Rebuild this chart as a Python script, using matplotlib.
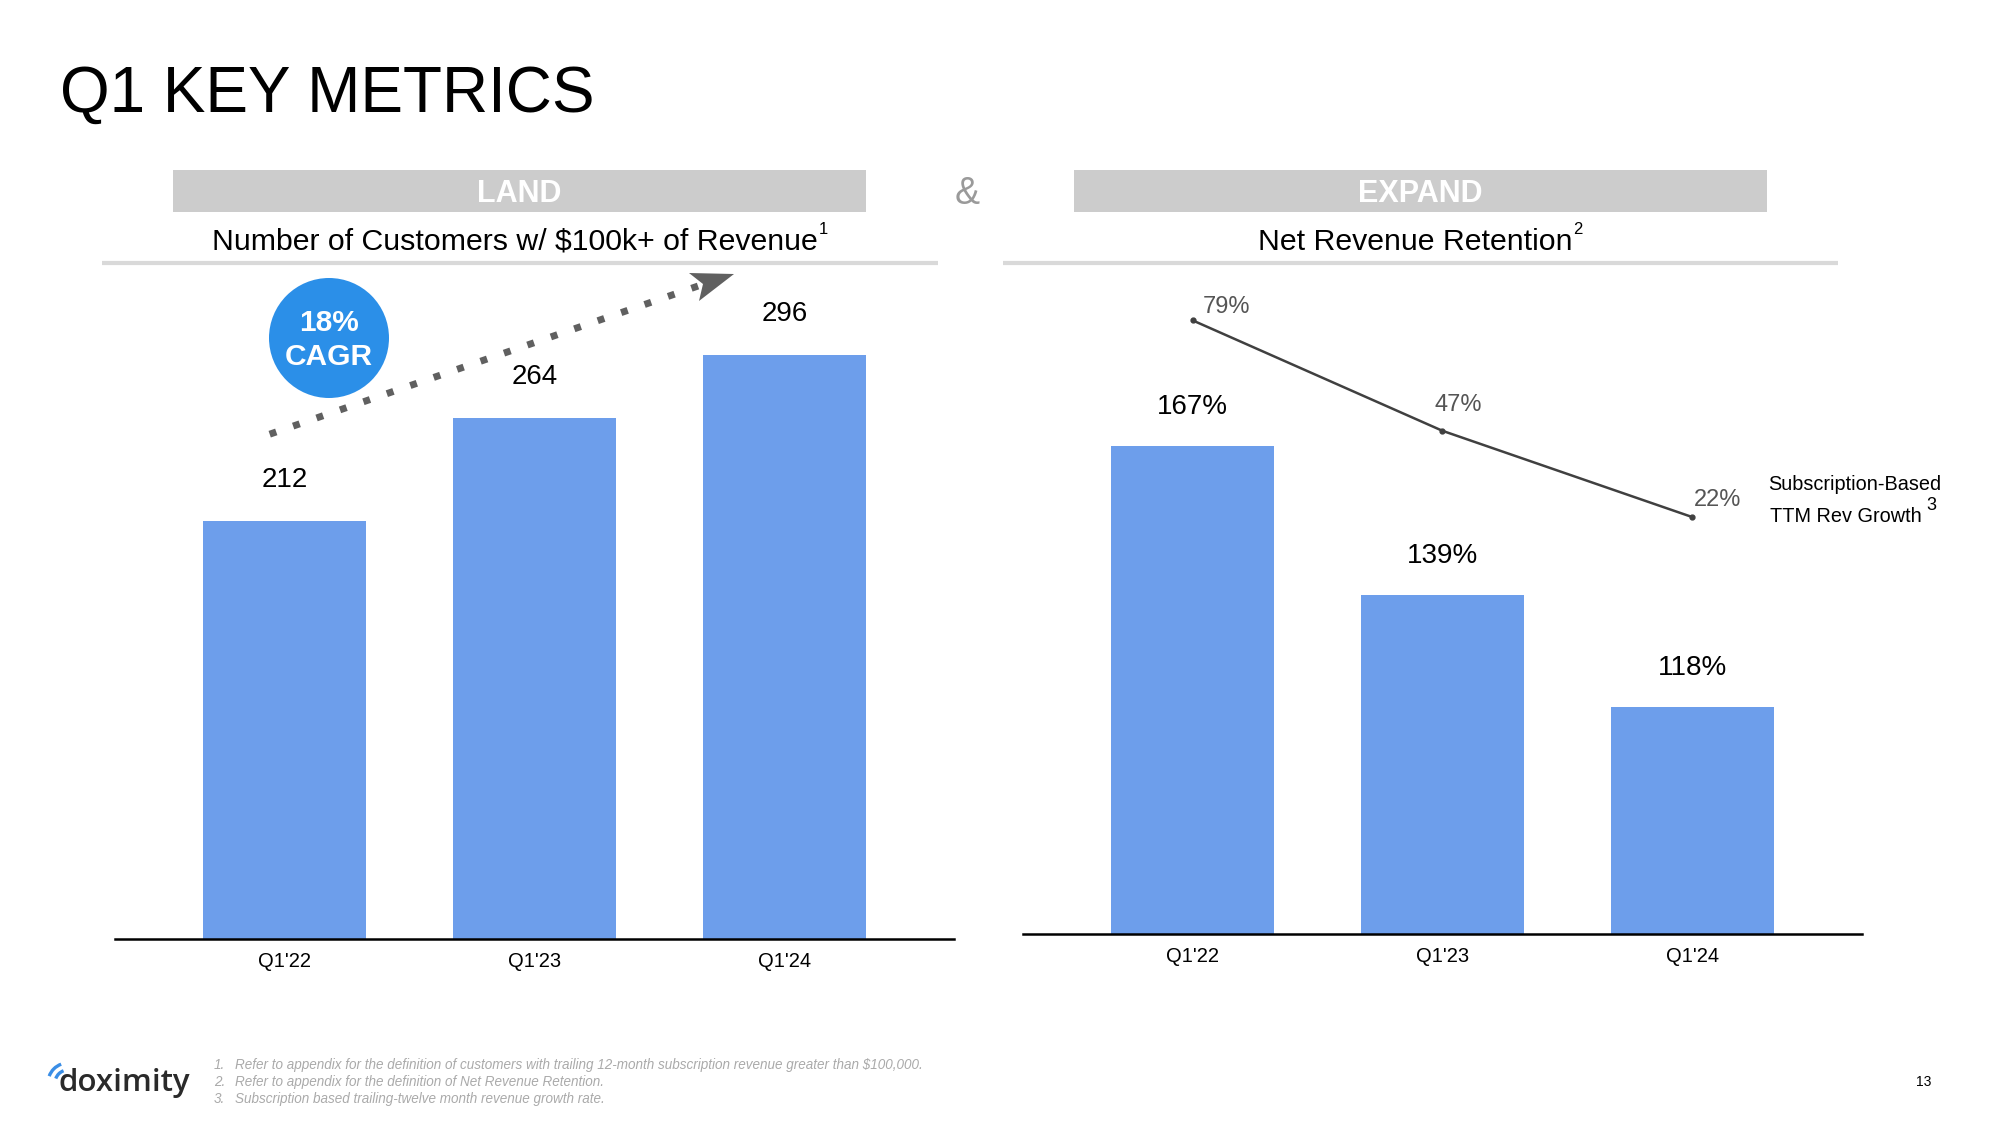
import matplotlib
matplotlib.use("Agg")
import matplotlib.pyplot as plt
from matplotlib.patches import Rectangle, Circle, Polygon, Arc
from matplotlib.lines import Line2D

plt.rcParams['font.family'] = ['Liberation Sans', 'DejaVu Sans']

# ---------------- data ----------------
categories = ["Q1'22", "Q1'23", "Q1'24"]
customers_100k = [212, 264, 296]
net_rev_retention = [167, 139, 118]
ttm_rev_growth = [79, 47, 22]
cagr_label = "18%\nCAGR"
footnotes = [
    "Refer to appendix for the definition of customers with trailing 12-month subscription revenue greater than $100,000.",
    "Refer to appendix for the definition of Net Revenue Retention.",
    "Subscription based trailing-twelve month revenue growth rate.",
]

W, H = 2000, 1125
fig = plt.figure(figsize=(20, 11.25), dpi=100)
fig.patch.set_facecolor('white')

# overlay in pixel coords for decorations
ov = fig.add_axes([0, 0, 1, 1], zorder=0)
ov.set_xlim(0, W)
ov.set_ylim(H, 0)
ov.axis('off')

BAR = '#6d9eeb'
LINEC = '#404040'

def fx(x):
    return x / W

def fy(y):
    return 1 - y / H

# title
fig.text(fx(60), fy(112), "Q1 KEY METRICS", fontsize=46, color='black', ha='left', va='baseline')

# header boxes
for (x0, x1, label) in [(173, 866, "LAND"), (1074, 1767, "EXPAND")]:
    ov.add_patch(Rectangle((x0, 170), x1 - x0, 42, facecolor='#cccccc', edgecolor='none'))
    ov.text((x0 + x1) / 2, 194, label, fontsize=22, fontweight='bold', color='white', ha='center', va='center')
ov.text(967, 194, "&", fontsize=27, color='#9a9a9a', ha='center', va='center')

# gray separator lines
for (x0, x1) in [(102, 938), (1003, 1838)]:
    ov.plot([x0, x1], [263, 263], color='#d9d9d9', lw=3, solid_capstyle='butt')

renderer = fig.canvas.get_renderer()

def sup_title(xc, y, main, sup, size):
    t = ov.text(0, y, main, fontsize=size, ha='left', va='center')
    s = ov.text(0, y - 13, sup, fontsize=size * 0.55, ha='left', va='center')
    w1 = t.get_window_extent(renderer).width
    w2 = s.get_window_extent(renderer).width
    x0 = xc - (w1 + w2) / 2
    t.set_x(x0)
    s.set_x(x0 + w1 + 1)

sup_title(519, 242, "Number of Customers w/ $100k+ of Revenue", "1", 21.8)
sup_title(1420, 242, "Net Revenue Retention", "2", 21.8)

# ---------------- left chart ----------------
axL = fig.add_axes([fx(115), fy(939), (954 - 115) / W, (939 - 270) / H], zorder=2)
axL.set_facecolor('none')
xs = list(range(len(categories)))
axL.bar(xs, customers_100k, width=0.65, color=BAR, zorder=2)
axL.set_xlim(-0.679, 2.679)
axL.set_ylim(0, 339)
for x, v in zip(xs, customers_100k):
    axL.annotate(str(v), (x, v), xytext=(0, 29.5), textcoords='offset points',
                 ha='center', va='center', fontsize=20, color='black')

# ---------------- right chart ----------------
axR = fig.add_axes([fx(1023), fy(934), (1862 - 1023) / W, (934 - 270) / H], zorder=2)
axR.set_facecolor('none')
axR.bar(xs, net_rev_retention, width=0.65, color=BAR, zorder=2)
axR.set_xlim(-0.679, 2.679)
axR.set_ylim(75.3, 200.1)
for x, v in zip(xs, net_rev_retention):
    axR.annotate(f"{v}%", (x, v), xytext=(0, 28), textcoords='offset points',
                 ha='center', va='center', fontsize=20, color='black')

axR2 = axR.twinx()
axR2.set_zorder(3)
axR2.set_facecolor('none')
axR2.plot(xs, ttm_rev_growth, color=LINEC, lw=1.8, marker='o', markersize=3.5)
axR2.set_ylim(-98.8, 93.6)
axR2.axis('off')
line_offsets = [(7, 9.5), (-6, 18.5), (1, 12.5)]
for x, v, off in zip(xs, ttm_rev_growth, line_offsets):
    axR2.annotate(f"{v}%", (x, v), xytext=off, textcoords='offset points',
                  ha='left', va='center', fontsize=17, color='#555555')

for ax in (axL, axR):
    for sp in ['top', 'left', 'right']:
        ax.spines[sp].set_visible(False)
    ax.spines['bottom'].set_linewidth(1.8)
    ax.spines['bottom'].set_color('black')
    ax.set_yticks([])
    ax.set_xticks(xs)
    ax.set_xticklabels(categories, fontsize=14.5)
    ax.tick_params(axis='x', length=0, pad=9.5)

# legend text for line
ov.text(1855, 484, "Subscription-Based", fontsize=14.3, ha='center', va='center')
ov.text(1846, 517, "TTM Rev Growth", fontsize=14.3, ha='center', va='center')
ov.text(1931, 505, "3", fontsize=13, ha='center', va='center')

# CAGR bubble and dotted arrow
ov.add_patch(Circle((329, 338), 60, facecolor='#2b8fe8', edgecolor='none', zorder=3))
ov.text(329, 340, cagr_label, fontsize=21.5, fontweight='bold', color='white',
        ha='center', va='center', linespacing=1.3, zorder=4)
ov.add_line(Line2D([269.7, 701.3], [434.2, 284.9], color='#606060', lw=5,
                   linestyle=(0, (1, 2.57)), zorder=3))
ov.add_patch(Polygon([(734, 274), (689, 273), (703, 284), (699, 301)], closed=True,
                     facecolor='#606060', edgecolor='none', zorder=3))

# footer
ov.text(58, 1091, "doximity", fontsize=22.5, family=['Open Sans', 'DejaVu Sans'],
        fontweight='semibold', color='#2a2a2a', ha='left', va='baseline')
ov.add_patch(Arc((68, 1083), 40, 40, theta1=200, theta2=250, color='#3a8ee6', lw=2.4))
ov.add_patch(Arc((68, 1083), 26, 26, theta1=200, theta2=250, color='#3a8ee6', lw=2.4))
for i, note in enumerate(footnotes):
    y = 1065 + i * 17
    ov.text(214, y, f"{i + 1}.", fontsize=9.75, style='italic', color='#aaaaaa', ha='left', va='center')
    ov.text(235, y, note, fontsize=9.75, style='italic', color='#aaaaaa', ha='left', va='center')
ov.text(1924, 1082, "13", fontsize=10, color='black', ha='center', va='center')

fig.savefig("out.png", dpi=100, facecolor='white')
